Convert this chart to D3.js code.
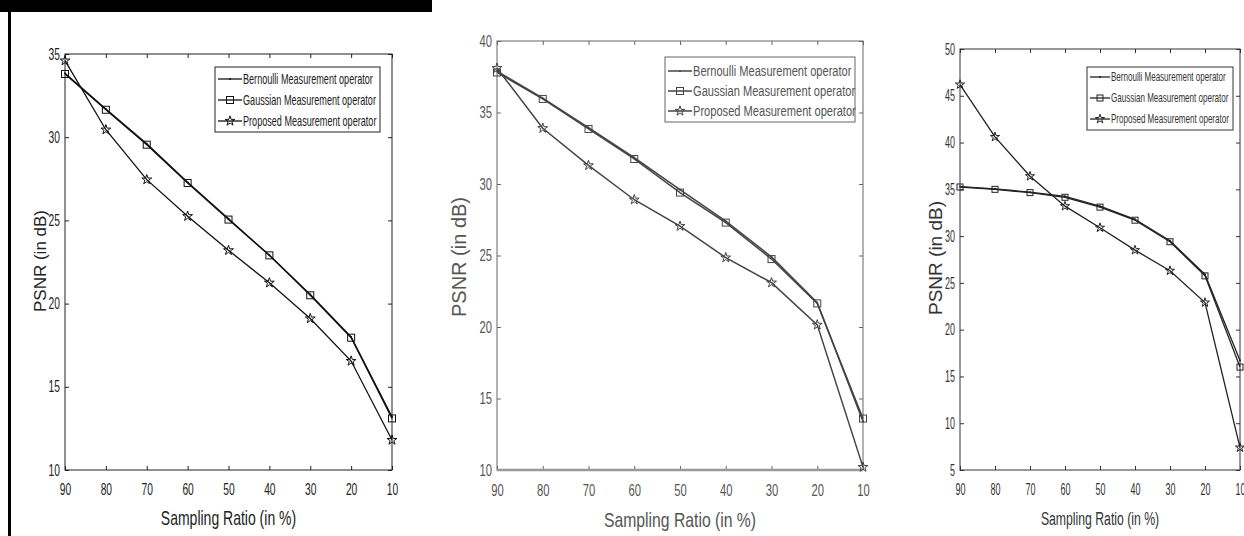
<!DOCTYPE html>
<html><head><meta charset="utf-8">
<script src="https://cdn.jsdelivr.net/npm/d3@7"></script>
<style>
body{margin:0;background:#fff;}
svg{display:block;}
text{font-family:"Liberation Sans",Arial,sans-serif;}
</style>
</head><body>
<svg id="chart" width="1244" height="536"></svg>
<script>
const ratios = [90,80,70,60,50,40,30,20,10];
const xTickLabels = ["90","80","70","60","50","40","30","20","10"];
const seriesNames = ["Bernoulli Measurement operator","Gaussian Measurement  operator","Proposed Measurement  operator"];

const p1Bernoulli = [33.85,31.7,29.6,27.3,25.1,22.9,20.55,18.0,13.2];
const p1Gaussian  = [33.8,31.65,29.55,27.25,25.05,22.9,20.5,17.95,13.1];
const p1Proposed  = [34.6,30.45,27.45,25.25,23.2,21.25,19.1,16.55,11.8];
const p1YTicks = [10,15,20,25,30,35];

const p2Bernoulli = [37.9,36.0,33.95,31.85,29.6,27.4,24.9,21.7,13.4];
const p2Gaussian  = [37.8,35.95,33.85,31.75,29.4,27.3,24.75,21.65,13.6];
const p2Proposed  = [38.1,33.9,31.3,28.9,27.05,24.85,23.1,20.15,10.2];
const p2YTicks = [10,15,20,25,30,35,40];

const p3Bernoulli = [35.3,35.05,34.7,34.25,33.2,31.8,29.5,25.9,16.7];
const p3Gaussian  = [35.25,35.0,34.65,34.15,33.1,31.7,29.4,25.75,16.0];
const p3Proposed  = [46.2,40.6,36.4,33.2,30.9,28.5,26.3,22.9,7.4];
const p3YTicks = [5,10,15,20,25,30,35,40,45,50];

const svg = d3.select("#chart");
svg.append("rect").attr("x",0).attr("y",0).attr("width",432).attr("height",12).attr("fill","#000");
svg.append("rect").attr("x",8).attr("y",0).attr("width",3).attr("height",536).attr("fill","#000");

function narrowText(parent, x, y, str, size, sx, color, anchor, dy){
  return parent.append("text").attr("transform",`translate(${x},${y}) scale(${sx},1)`)
    .attr("text-anchor",anchor||"start").attr("dy",dy||"0").attr("fill",color)
    .style("font-size",size+"px").text(str);
}

function panel(cfg){
  const g = svg.append("g");
  const x = d3.scaleLinear().domain([90,10]).range([cfg.x0,cfg.x1]);
  const y = d3.scaleLinear().domain(cfg.yDomain).range([cfg.y1,cfg.y0]);
  const col = cfg.color;
  const tl = 4;
  const axB = d3.axisBottom(x).tickValues(ratios).tickFormat((d,i)=>xTickLabels[i]).tickSizeInner(-tl).tickSizeOuter(0).tickPadding(cfg.xPad);
  const axT = d3.axisTop(x).tickValues(ratios).tickFormat("").tickSizeInner(-tl).tickSizeOuter(0);
  const axL = d3.axisLeft(y).tickValues(cfg.yTicks).tickSizeInner(-tl).tickSizeOuter(0).tickPadding(5);
  const axR = d3.axisRight(y).tickValues(cfg.yTicks).tickFormat("").tickSizeInner(-tl).tickSizeOuter(0);
  const gb = g.append("g").attr("transform",`translate(0,${cfg.y1})`).call(axB);
  const gt = g.append("g").attr("transform",`translate(0,${cfg.y0})`).call(axT);
  const gl = g.append("g").attr("transform",`translate(${cfg.x0},0)`).call(axL);
  const gr = g.append("g").attr("transform",`translate(${cfg.x1},0)`).call(axR);
  [gb,gt,gl,gr].forEach(a=>{
    a.select(".domain").remove();
    a.attr("font-family",null).attr("font-size",null);
    a.selectAll("line").attr("stroke",col).attr("stroke-width",1);
    a.selectAll("text").attr("fill",cfg.textColor).style("font-size",cfg.tickFont+"px")
      .each(function(){
        const t = d3.select(this);
        const tx = +t.attr("x")||0;
        t.attr("x",tx/cfg.tickSx).attr("transform",`scale(${cfg.tickSx},1)`);
      });
  });
  g.append("rect").attr("x",cfg.x0).attr("y",cfg.y0).attr("width",cfg.x1-cfg.x0).attr("height",cfg.y1-cfg.y0)
    .attr("fill","none").attr("stroke",col).attr("stroke-width",1);
  if(cfg.bottomThick){
    g.append("line").attr("x1",cfg.x0).attr("x2",cfg.x1).attr("y1",cfg.y1).attr("y2",cfg.y1)
      .attr("stroke","#999").attr("stroke-width",2.5);
  }
  const line = d3.line().x((d,i)=>x(ratios[i])).y(d=>y(d));
  const series = [
    {vals:cfg.b, mark:"dot"},
    {vals:cfg.g, mark:"square"},
    {vals:cfg.p, mark:"star"}
  ];
  const star = d3.symbol().type(d3.symbolStar).size(cfg.starSize);
  function drawMark(sel, kind, cx, cy){
    if(kind==="dot"){
      sel.append("circle").attr("cx",cx).attr("cy",cy).attr("r",1).attr("fill",cfg.lineColor);
    } else if(kind==="square"){
      const s = cfg.sq;
      sel.append("rect").attr("x",cx-s/2).attr("y",cy-s/2).attr("width",s).attr("height",s)
        .attr("fill","none").attr("stroke",cfg.lineColor).attr("stroke-width",1);
    } else {
      sel.append("path").attr("d",star).attr("transform",`translate(${cx},${cy})`)
        .attr("fill","none").attr("stroke",cfg.lineColor).attr("stroke-width",1);
    }
  }
  series.slice().reverse().forEach(s=>{
    g.append("path").datum(s.vals).attr("d",line).attr("fill","none")
      .attr("stroke",cfg.lineColor).attr("stroke-width",cfg.lw);
    s.vals.forEach((v,i)=>drawMark(g,s.mark,x(ratios[i]),y(v)));
  });
  const L = cfg.legend;
  g.append("rect").attr("x",L.x).attr("y",L.y).attr("width",L.w).attr("height",L.h)
    .attr("fill","#fff").attr("stroke",col).attr("stroke-width",1);
  series.forEach((s,i)=>{
    const ry = L.y + L.r0 + i*L.dy;
    g.append("line").attr("x1",L.x+3).attr("x2",L.x+3+L.ll).attr("y1",ry).attr("y2",ry)
      .attr("stroke",cfg.lineColor).attr("stroke-width",cfg.lw);
    drawMark(g,s.mark,L.x+3+L.ll/2,ry);
    narrowText(g, L.x+4+L.ll, ry, seriesNames[i], L.font, L.sx, cfg.textColor, "start", "0.35em");
  });
  narrowText(g, (cfg.x0+cfg.x1)/2, cfg.xlabY, "Sampling Ratio (in %)", cfg.xlabFont, cfg.xlabSx, cfg.textColor, "middle");
  g.append("text").attr("transform",`translate(${cfg.ylabX},${cfg.ylabCY}) rotate(-90)`)
    .attr("text-anchor","middle").attr("fill",cfg.textColor).style("font-size",cfg.ylabFont+"px")
    .text("PSNR (in dB)");
}

panel({x0:65,x1:392,y0:54,y1:470,yDomain:[10,35],yTicks:p1YTicks,b:p1Bernoulli,g:p1Gaussian,p:p1Proposed,
  color:"#222",textColor:"#222",lineColor:"#111",lw:1.3,tickFont:16,tickSx:0.64,xPad:14,sq:7,starSize:30,
  legend:{x:215,y:67,w:165,h:65,r0:12,dy:21,ll:24,font:14,sx:0.65},
  xlabY:525,xlabFont:20,xlabSx:0.7,ylabX:46,ylabCY:261,ylabFont:17});

panel({x0:497,x1:863,y0:41,y1:470,yDomain:[10,40],yTicks:p2YTicks,b:p2Bernoulli,g:p2Gaussian,p:p2Proposed,
  color:"#666",textColor:"#555",lineColor:"#444",lw:1.5,tickFont:17,tickSx:0.66,xPad:14,sq:7,starSize:30,bottomThick:true,
  legend:{x:665,y:57,w:190,h:65,r0:14,dy:20,ll:24,font:15,sx:0.74},
  xlabY:527,xlabFont:21,xlabSx:0.75,ylabX:466,ylabCY:257,ylabFont:20});

panel({x0:960,x1:1240,y0:49,y1:470,yDomain:[5,50],yTicks:p3YTicks,b:p3Bernoulli,g:p3Gaussian,p:p3Proposed,
  color:"#333",textColor:"#333",lineColor:"#222",lw:1.3,tickFont:16,tickSx:0.56,xPad:14,sq:6,starSize:26,
  legend:{x:1087,y:67,w:146,h:63,r0:10,dy:21,ll:20,font:12,sx:0.67},
  xlabY:525,xlabFont:18,xlabSx:0.68,ylabX:942,ylabCY:258,ylabFont:19});
</script>
</body></html>
